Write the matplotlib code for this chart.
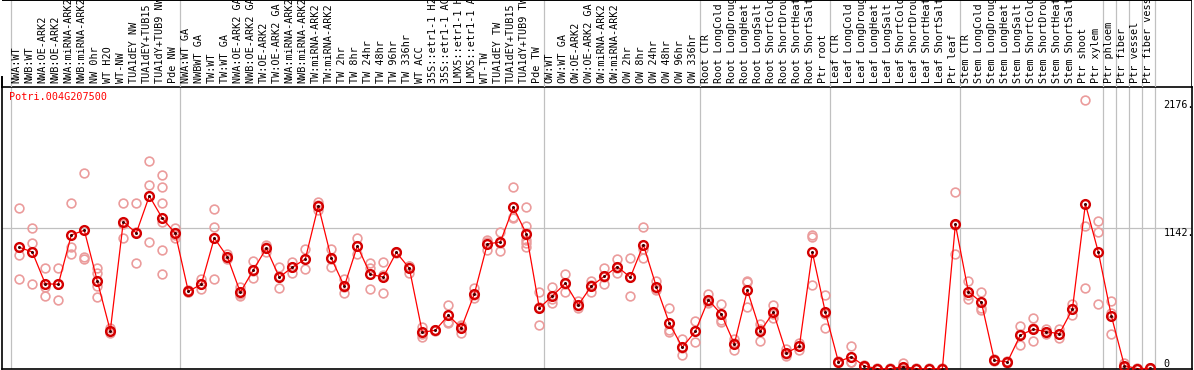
import numpy as np
import matplotlib
matplotlib.use("Agg")
import matplotlib.pyplot as plt

gene = "Potri.004G207500"

labels = [
    "NWA:WT", "NWB:WT", "NWA:OE-ARK2", "NWB:OE-ARK2", "NWA:miRNA-ARK2",
    "NWB:miRNA-ARK2", "NW 0hr", "WT H2O", "WT-NW", "TUA1dEY NW",
    "TUA1dEY+TUB15", "TUA1dY+TUB9 NW", "Pde NW",
    "NWA:WT GA", "NWBWT GA", "TW:WT", "TW:WT GA", "NWA:OE-ARK2 GA",
    "NWB:OE-ARK2 GA", "TW:OE-ARK2", "TW:OE-ARK2 GA", "NWA:miRNA-ARK2",
    "NWB:miRNA-ARK2", "TW:miRNA-ARK2", "TW:miRNA-ARK2", "TW 2hr", "TW 8hr",
    "TW 24hr", "TW 48hr", "TW 96hr", "TW 336hr", "WT ACC", "35S::etr1-1 H2",
    "35S::etr1-1 AC", "LMX5::etr1-1 H", "LMX5::etr1-1 A", "WT-TW",
    "TUA1dEY TW", "TUA1dEY+TUB15", "TUA1dY+TUB9 TW", "Pde TW",
    "OW:WT", "OW:WT GA", "OW:OE-ARK2", "OW:OE-ARK2 GA", "OW:miRNA-ARK2",
    "OW:miRNA-ARK2", "OW 2hr", "OW 8hr", "OW 24hr", "OW 48hr", "OW 96hr",
    "OW 336hr",
    "Root CTR", "Root LongCold", "Root LongDroug", "Root LongHeat",
    "Root LongSalt", "Root ShortCold", "Root ShortDrou", "Root ShortHeat",
    "Root ShortSalt", "Ptr root",
    "Leaf CTR", "Leaf LongCold", "Leaf LongDroug", "Leaf LongHeat",
    "Leaf LongSalt", "Leaf ShortCold", "Leaf ShortDrou", "Leaf ShortHeat",
    "Leaf ShortSalt", "Ptr leaf",
    "Stem CTR", "Stem LongCold", "Stem LongDroug", "Stem LongHeat",
    "Stem LongSalt", "Stem ShortCold", "Stem ShortDrou", "Stem ShortHeat",
    "Stem ShortSalt", "Ptr shoot", "Ptr xylem",
    "Ptr phloem", "Ptr fiber", "Ptr vessel", "Ptr fiber vess",
]

# index of first sample of each group
group_starts = [0, 13, 41, 53, 63, 73, 84, 85, 86, 87, 88]

means = [
    986, 948, 691, 686, 1086, 1124, 713, 310, 1193, 1102, 1402, 1221, 1099,
    629, 686, 1061, 910, 621, 802, 978, 743, 824, 891, 1323, 897, 670, 997,
    767, 745, 945, 816, 297, 314, 435, 332, 608, 1013, 1029, 1310, 1096, 494,
    591, 694, 519, 672, 751, 829, 743, 1007, 667, 370, 176, 305,
    561, 443, 203, 638, 305, 459, 130, 184, 945, 459,
    59, 100, 24, 3, 3, 19, 3, 3, 3, 1172,
    626, 540, 70, 57, 275, 322, 302, 286, 484, 1337, 945,
    429, 27, 3, 5,
]

reps = [
    [1302, 921, 727], [1140, 1018, 686], [821, 667, 589], [816, 686, 557],
    [1342, 991, 932], [1585, 910, 891], [820, 775, 672, 586], [332, 305, 293],
    [1347, 1173, 1059], [1342, 1108, 856], [1685, 1491, 1027],
    [1572, 1472, 1342, 1193, 964, 767], [1140, 1086, 1059],
    [640, 625, 622], [727, 685, 646], [1294, 1148, 727], [932, 909, 889],
    [662, 610, 591], [875, 796, 735], [1005, 985, 945], [824, 751, 654],
    [864, 828, 780], [972, 891, 810], [1355, 1326, 1288], [972, 890, 829],
    [729, 668, 613], [1059, 1000, 932], [861, 816, 646], [864, 758, 613],
    [950, 945, 940], [837, 831, 780], [343, 286, 262], [316, 316, 310],
    [519, 383, 370], [356, 351, 289], [654, 597, 573], [1048, 1027, 964],
    [1108, 1023, 956], [1477, 1234, 1221],
    [1310, 1159, 1099, 1045, 1018, 991], [626, 500, 356],
    [667, 569, 537], [770, 691, 621], [553, 512, 492], [716, 679, 621],
    [818, 745, 691], [891, 815, 780], [897, 743, 589], [1148, 975, 899],
    [713, 645, 643], [491, 316, 297], [243, 172, 113], [389, 310, 216],
    [605, 546, 532], [527, 397, 378], [241, 214, 154], [713, 701, 500],
    [362, 326, 227], [519, 447, 411], [162, 120, 108], [208, 190, 154],
    [1082, 1072, 681], [600, 447, 330],
    [65, 57, 55], [186, 59, 55], [30, 22, 20], [5, 3, 1], [5, 3, 1],
    [46, 8, 3], [5, 3, 1], [5, 3, 1], [5, 3, 1], [1432, 1167, 929],
    [713, 600, 565], [621, 497, 478], [78, 70, 62], [62, 57, 52],
    [351, 282, 192], [411, 331, 224], [324, 301, 281], [324, 285, 249],
    [529, 485, 438], [2176, 1161, 654], [1199, 1112, 524],
    [551, 451, 284], [46, 20, 15], [5, 3, 1], [8, 5, 2],
]

W, H = 1194, 370
fig = plt.figure(figsize=(W / 100, H / 100), dpi=100)
mono = "DejaVu Sans Mono"
fs = 7.3
grey = "#c0c0c0"

x = np.arange(len(means))
top = max(max(r) for r in reps)
xlim = (-1.33, 90.2)

# data panel
ax = fig.add_axes([2 / W, 1 / H, 1190 / W, 282 / H])
ax.set_xlim(*xlim)
ax.set_ylim(0, top * 1.05)
for b in group_starts:
    ax.axvline(b - 0.64, color=grey, lw=0.9, zorder=0)
ax.axhline(top * 0.525, color=grey, lw=0.9, zorder=0)

for i, r in enumerate(reps):
    ax.plot([i] * len(r), r, ls="none", marker="o", ms=6.3, mfc="none",
            mec="#eb9c9c", mew=1.2, zorder=2)
ax.plot(x, means, color="red", lw=0.9, zorder=3)
ax.plot(x, means, ls="none", marker="o", ms=6.3, mfc="none", mec="#d40000",
        mew=1.7, zorder=4)
ax.plot(x, means, ls="none", marker="o", ms=1.2, color="#400000", zorder=5)

ax.set_xticks([])
ax.set_yticks([])
for s in ax.spines.values():
    s.set_color("black")
    s.set_linewidth(1.2)

ax.text(len(means), top, f"{top:.0f}.", family=mono, fontsize=fs,
        ha="left", va="top")
ax.text(len(means), top * 0.525, f"{top * 0.525:.0f}.", family=mono,
        fontsize=fs, ha="left", va="top")
ax.text(len(means), 0, "0", family=mono, fontsize=fs, ha="left",
        va="bottom")
ax.text(0.006, 0.965, gene, transform=ax.transAxes, family=mono,
        fontsize=fs, color="red", ha="left", va="center")

# header with sample names
hax = fig.add_axes([2 / W, (H - 87) / H, 1190 / W, 87 / H])
hax.set_xlim(*xlim)
hax.set_ylim(87, 0)
hax.axis("off")
for b in group_starts:
    hax.axvline(b - 0.64, color=grey, lw=0.9, zorder=0)
for i, lab in enumerate(labels):
    hax.text(i - 0.2, 83, lab, rotation=90, family=mono, fontsize=fs,
             ha="center", va="bottom", clip_on=True)
hax.axhline(0.4, color="black", lw=1.4)
hax.plot([-1.33, -1.33], [77, 87], color="black", lw=1.4, clip_on=False)
hax.axvline(xlim[1] - 0.02, color="black", lw=1.2)

fig.savefig("out.png", dpi=100)
